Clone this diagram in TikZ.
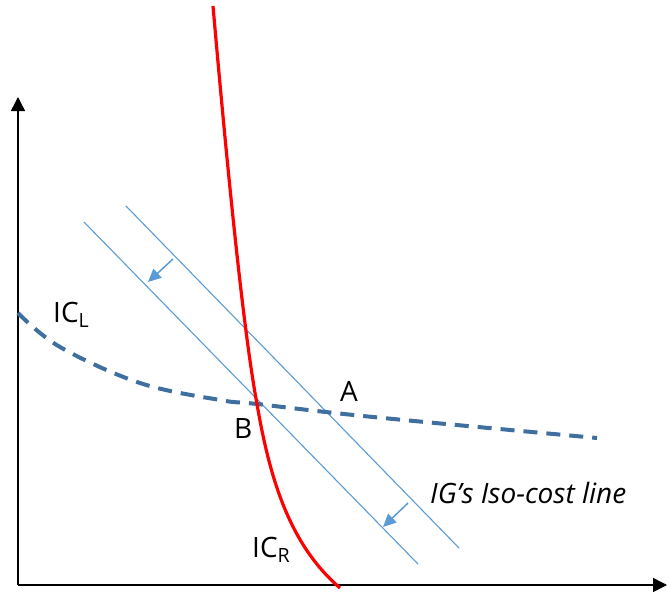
\documentclass[tikz,border=0pt]{standalone}
\usepackage{fontspec}
\setmainfont{Open Sans}
\usetikzlibrary{arrows.meta}
\definecolor{isoblue}{HTML}{5B9BD5}
\definecolor{icblue}{HTML}{3E6F9E}
\begin{document}
\begin{tikzpicture}[x=1pt,y=-1pt,
  axis/.style={line width=1.5pt,-{Triangle[length=14pt,width=14pt]}},
  isoline/.style={isoblue,line width=1.1pt},
  shiftarrow/.style={isoblue,line width=1.5pt,-{Triangle[length=13pt,width=12pt]}},
  redcurve/.style={red,line width=3.2pt},
  dashcurve/.style={icblue,line width=4pt,dash pattern=on 14pt off 9pt},
  lbl/.style={inner sep=0pt,anchor=base west,font=\fontsize{28}{30}\selectfont}]
\useasboundingbox (0,0) rectangle (667,597);
% axes
\coordinate (origin) at (18,585);
\coordinate (ytop) at (18,97);
\coordinate (xend) at (667,585);
\draw[axis] (origin) -- (ytop);
\draw[axis] (origin) -- (xend);
% iso-cost lines
\coordinate (o1) at (126,206);
\coordinate (o2) at (459,548);
\coordinate (i1) at (84,222);
\coordinate (i2) at (418,564);
\draw[isoline] (o1) -- (o2);
\draw[isoline] (i1) -- (i2);
% shift arrows
\coordinate (a1s) at (173,259);
\coordinate (a1e) at (148,282);
\coordinate (a2s) at (408,503);
\coordinate (a2e) at (383,527);
\draw[shiftarrow] (a1s) -- (a1e);
\draw[shiftarrow] (a2s) -- (a2e);
% IC_L dashed
\draw[dashcurve] plot[smooth,tension=0.6] coordinates {(18,313) (60,347) (140,383) (220,400) (257,404) (373,417) (597,438)};
% IC_R red
\coordinate (rtop) at (213,6);
\coordinate (rB) at (257,404);
\coordinate (rbot) at (340,588);
\draw[redcurve] (rtop) .. controls (230,200) and (245,340) .. (rB)
  .. controls (270,480) and (290,545) .. (rbot);
% labels
\node[lbl] (icl) at (53,322) {IC\textsubscript{L}};
\node[lbl] (la) at (340,401) {A};
\node[lbl] (lb) at (234,438) {B};
\node[lbl,font=\fontsize{28}{30}\selectfont\itshape] (iso) at (430,503) {IG’s Iso-cost line};
\node[lbl] (icr) at (252,557) {IC\textsubscript{R}};
\end{tikzpicture}
\end{document}
